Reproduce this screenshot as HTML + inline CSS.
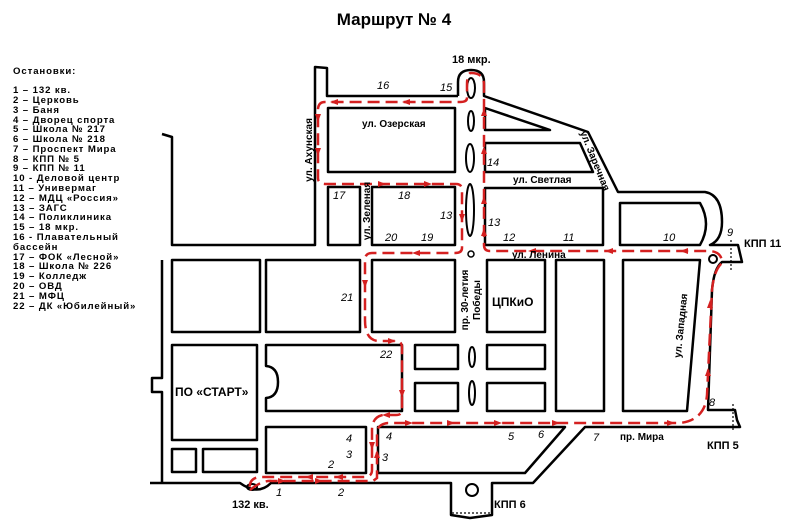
<!DOCTYPE html>
<html><head><meta charset="utf-8"><style>
html,body{margin:0;padding:0;background:#fff;}
svg{display:block;}
text{font-family:"Liberation Sans",Arial,sans-serif;}
.lg{font-size:9.6px;font-weight:bold;letter-spacing:0.9px;}
.n{font-size:11px;font-style:italic;}
.s{font-size:10px;font-weight:bold;}
.b{font-size:12px;font-weight:bold;}
</style></head><body>
<svg width="800" height="525" viewBox="0 0 800 525" xmlns="http://www.w3.org/2000/svg">
<text x="394" y="25" text-anchor="middle" style="font-size:17px;font-weight:bold">Маршрут № 4</text>
<g class="lg">
<text x="13" y="74">Остановки:</text>
<text x="13" y="93">1 – 132 кв.</text>
<text x="13" y="103">2 – Церковь</text>
<text x="13" y="113">3 – Баня</text>
<text x="13" y="123">4 – Дворец спорта</text>
<text x="13" y="132">5 – Школа № 217</text>
<text x="13" y="142">6 – Школа № 218</text>
<text x="13" y="152">7 – Проспект Мира</text>
<text x="13" y="162">8 – КПП № 5</text>
<text x="13" y="171">9 – КПП № 11</text>
<text x="13" y="181">10 - Деловой центр</text>
<text x="13" y="191">11 – Универмаг</text>
<text x="13" y="201">12 – МДЦ «Россия»</text>
<text x="13" y="211">13 – ЗАГС</text>
<text x="13" y="220">14 – Поликлиника</text>
<text x="13" y="230">15 – 18 мкр.</text>
<text x="13" y="240">16 - Плавательный</text>
<text x="13" y="250">бассейн</text>
<text x="13" y="260">17 – ФОК «Лесной»</text>
<text x="13" y="269">18 – Школа № 226</text>
<text x="13" y="279">19 – Колледж</text>
<text x="13" y="289">20 – ОВД</text>
<text x="13" y="299">21 – МФЦ</text>
<text x="13" y="309">22 – ДК «Юбилейный»</text>
</g>
<g fill="none" stroke="#000" stroke-width="2.5" stroke-linejoin="round">
<polyline points="162,134 172,137 172,245 315,245 315,67 327,68 327,96 458,96"/>
<path d="M458,96 L458,82 Q458,70 471,70 Q484,70 484,82 L484,96 L588,132 L618,192 L705,192 Q722,195 722,222 Q722,240 710,245 L738,245 L742,262 L722,262 Q714,268 712,290 L708,410 L735,410 L737,420 L740,427 L585,427 L533,483 L492,483 L492,515 L470,518 L451,515 L451,483 L271,483 Q258,496 240,483 L150,483"/>
<polyline points="162,260 162,378 152,378 152,392 162,392 162,483"/>
<rect x="328" y="108" width="127" height="64"/>
<polygon points="485,108 485,130 550,130"/>
<polygon points="485,143 580,143 593,172 485,172"/>
<rect x="485" y="188" width="118" height="57"/>
<path d="M620,203 L700,203 Q712,224 700,245 L620,245 Z"/>
<rect x="328" y="187" width="32" height="58"/>
<rect x="372" y="187" width="83" height="58"/>
<rect x="172" y="260" width="88" height="72"/>
<rect x="266" y="260" width="94" height="72"/>
<rect x="372" y="260" width="83" height="72"/>
<rect x="487" y="260" width="58" height="72"/>
<rect x="556" y="260" width="48" height="151"/>
<polygon points="623,260 700,260 687,411 623,411"/>
<rect x="172" y="345" width="85" height="95"/>
<path d="M266,345 L402,345 L402,411 L266,411 L266,398 Q278,397 278,382 Q278,367 266,366 Z"/>
<rect x="415" y="345" width="43" height="24"/>
<rect x="415" y="383" width="43" height="28"/>
<rect x="487" y="345" width="58" height="24"/>
<rect x="487" y="383" width="58" height="28"/>
<rect x="266" y="427" width="100" height="46"/>
<polygon points="378,427 565,427 525,473 378,473"/>
<rect x="172" y="449" width="24" height="23"/>
<rect x="203" y="449" width="54" height="23"/>
<ellipse cx="471" cy="88" rx="4" ry="10" stroke-width="2"/>
<ellipse cx="471" cy="121" rx="3" ry="10" stroke-width="2"/>
<ellipse cx="470" cy="158" rx="4" ry="14" stroke-width="2"/>
<ellipse cx="470" cy="210" rx="4" ry="26" stroke-width="2"/>
<ellipse cx="472" cy="357" rx="3" ry="10" stroke-width="2"/>
<ellipse cx="472" cy="393" rx="3" ry="12" stroke-width="2"/>
<circle cx="471" cy="254" r="3" stroke-width="1.5"/>
<circle cx="713" cy="259" r="4" stroke-width="2"/>
<circle cx="472" cy="490" r="6" stroke-width="2"/>
<ellipse cx="252" cy="487" rx="5" ry="3" stroke-width="2"/>
</g>
<g stroke="#000" stroke-width="1.2" stroke-dasharray="2,2">
<line x1="731" y1="240" x2="731" y2="272"/>
<line x1="733" y1="404" x2="733" y2="432"/>
<line x1="452" y1="513" x2="490" y2="513"/>
</g>
<g fill="none" stroke="#d42020" stroke-width="2.5" stroke-dasharray="12,6">
<path d="M250,490 Q262,480 272,481 L373,481 L377,478 L377,432 Q378,424 388,423 L680,423 Q705,420 707,395 L712,290 Q714,270 722,263 Q722,252 710,251 L490,251 Q484,251 484,245 L484,85 Q484,73 471,73 Q467,73 467,85 L467,98 Q467,102 460,102 L325,102 Q318,102 318,110 L318,178 Q318,184 326,184 L456,184 Q462,184 462,190 L462,248 Q462,253 455,253 L372,253 Q365,253 365,260 L365,320 Q365,340 378,341 L396,341 Q402,341 402,348 L402,410 Q402,415 396,415 L383,415 Q372,417 372,430 L372,470 Q372,477 364,477 L262,477 Q248,477 250,490"/>
</g>
<g fill="#d42020">
<polygon points="330,102 338,99 338,105"/>
<polygon points="402,102 410,99 410,105"/>
<polygon points="318,122 315,114 321,114"/>
<polygon points="318,156 315,148 321,148"/>
<polygon points="386,184 378,181 378,187"/>
<polygon points="432,184 424,181 424,187"/>
<polygon points="462,222 459,214 465,214"/>
<polygon points="412,253 420,250 420,256"/>
<polygon points="484,108 481,116 487,116"/>
<polygon points="484,146 481,154 487,154"/>
<polygon points="484,196 481,204 487,204"/>
<polygon points="484,228 481,236 487,236"/>
<polygon points="528,251 536,248 536,254"/>
<polygon points="605,251 613,248 613,254"/>
<polygon points="680,251 688,248 688,254"/>
<polygon points="365,288 362,280 368,280"/>
<polygon points="396,341 388,338 388,344"/>
<polygon points="402,398 399,390 405,390"/>
<polygon points="382,415 390,412 390,418"/>
<polygon points="372,450 369,442 375,442"/>
<polygon points="377,450 374,458 380,458"/>
<polygon points="305,477 313,474 313,480"/>
<polygon points="335,477 343,474 343,480"/>
<polygon points="286,481 278,478 278,484"/>
<polygon points="323,481 315,478 315,484"/>
<polygon points="413,423 405,420 405,426"/>
<polygon points="455,423 447,420 447,426"/>
<polygon points="502,423 494,420 494,426"/>
<polygon points="560,423 552,420 552,426"/>
<polygon points="675,423 667,420 667,426"/>
<polygon points="708,368 705,376 711,376"/>
<polygon points="710,300 707,308 713,308"/>
</g>
<g class="n">
<text x="377" y="89">16</text><text x="440" y="91">15</text>
<text x="333" y="199">17</text><text x="398" y="199">18</text>
<text x="440" y="219">13</text><text x="488" y="226">13</text>
<text x="487" y="166">14</text>
<text x="385" y="241">20</text><text x="421" y="241">19</text>
<text x="503" y="241">12</text><text x="563" y="241">11</text>
<text x="663" y="241">10</text><text x="727" y="236">9</text>
<text x="341" y="301">21</text><text x="380" y="358">22</text>
<text x="346" y="442">4</text><text x="346" y="458">3</text>
<text x="328" y="468">2</text><text x="338" y="496">2</text>
<text x="276" y="496">1</text><text x="382" y="461">3</text>
<text x="386" y="440">4</text><text x="508" y="440">5</text>
<text x="538" y="438">6</text><text x="593" y="441">7</text>
<text x="709" y="406">8</text>
</g>
<g class="s">
<text x="362" y="127">ул. Озерская</text>
<text x="513" y="183">ул. Светлая</text>
<text x="512" y="258">ул. Ленина</text>
<text x="620" y="440">пр. Мира</text>
<text x="452" y="63" style="font-size:11px">18 мкр.</text>
<text x="232" y="508" style="font-size:11px">132 кв.</text>
<text x="744" y="247" style="font-size:11px">КПП 11</text>
<text x="707" y="449" style="font-size:11px">КПП 5</text>
<text x="494" y="508" style="font-size:11px">КПП 6</text>
<text transform="translate(312,150) rotate(-90)" text-anchor="middle">ул. Ахунская</text>
<text transform="translate(370,211) rotate(-90)" text-anchor="middle">ул. Зеленая</text>
<text transform="translate(468,300) rotate(-90)" text-anchor="middle">пр. 30-летия</text>
<text transform="translate(480,300) rotate(-90)" text-anchor="middle">Победы</text>
<text transform="translate(592,162) rotate(68)" text-anchor="middle">ул. Заречная</text>
<text transform="translate(684,326) rotate(-84)" text-anchor="middle">ул. Западная</text>
</g>
<text x="492" y="306" class="b">ЦПКиО</text>
<text x="175" y="396" class="b">ПО «СТАРТ»</text>
</svg>
</body></html>
